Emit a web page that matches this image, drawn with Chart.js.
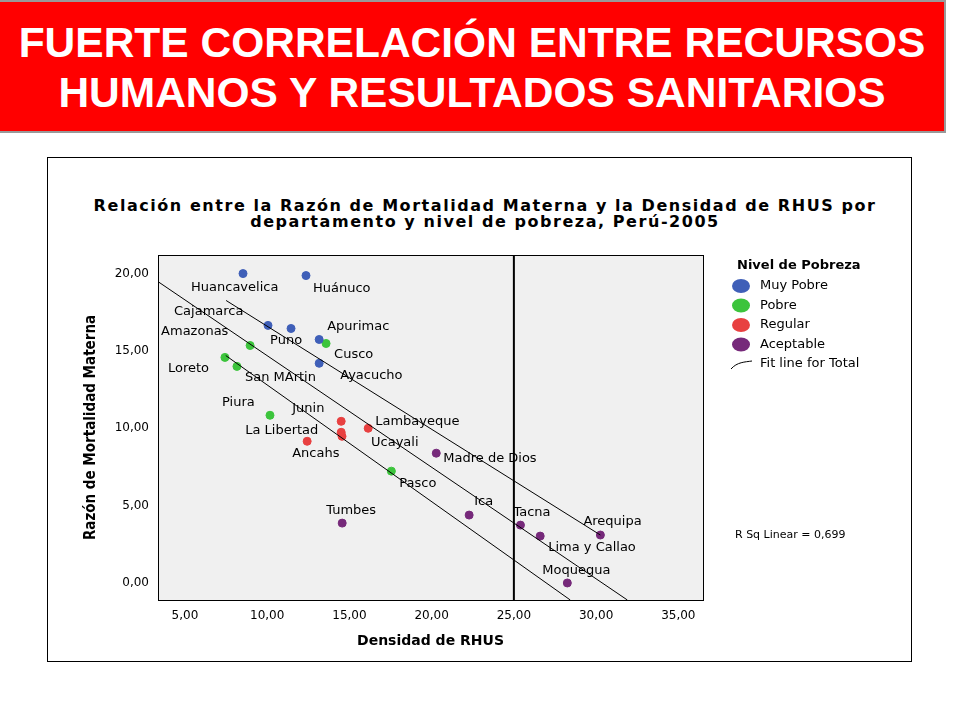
<!DOCTYPE html>
<html><head><meta charset="utf-8">
<script src="https://cdn.jsdelivr.net/npm/chart.js@4"></script>
<style>
body{margin:0;width:960px;height:720px;background:#fff;position:relative;font-family:Arial,"Liberation Sans",sans-serif;overflow:hidden}
#banner{position:absolute;left:0;top:0;width:946px;height:133px;background:#f00;border:2px solid #999;border-left:0;color:#fff;font-weight:bold;font-size:42.5px;text-align:center;line-height:50px;padding-top:16px;box-sizing:border-box}
#box{position:absolute;left:47px;top:157px;width:865px;height:505px;border:1px solid #000;box-sizing:border-box}
#ttl{position:absolute;left:50px;top:198px;width:870px;text-align:center;font-family:"DejaVu Sans",sans-serif;font-weight:bold;font-size:16px;line-height:16px;letter-spacing:1.55px}
canvas{position:absolute;left:0;top:0}
</style></head><body>
<div id="banner">FUERTE CORRELACIÓN ENTRE RECURSOS<br>HUMANOS Y RESULTADOS SANITARIOS</div>
<div id="box"></div>
<div id="ttl">Relación entre la Razón de Mortalidad Materna y la Densidad de RHUS por<br>departamento y nivel de pobreza, Perú-2005</div>
<canvas id="c" width="960" height="720"></canvas>
<script>
const muyPobreNames=["Huancavelica","Huánuco","Cajamarca","Puno","Apurimac","Ayacucho"];
const muyPobreX=[8.53,12.36,10.05,11.45,13.16,13.16];
const muyPobreY=[20.0,19.87,16.65,16.45,15.74,14.2];
const pobreNames=["Cusco","Amazonas","Loreto","San MArtin","Piura","Pasco"];
const pobreX=[13.58,8.96,7.43,8.16,10.17,17.55];
const pobreY=[15.48,15.35,14.58,14.0,10.84,7.23];
const regularNames=["Junin","Lambayeque","La Libertad","Ucayali","Ancahs"];
const regularX=[14.5,16.14,14.5,14.55,12.43];
const regularY=[10.45,10.0,9.74,9.48,9.16];
const aceptableNames=["Madre de Dios","Tumbes","Ica","Tacna","Lima y Callao","Arequipa","Moquegua"];
const aceptableX=[20.28,14.56,22.28,25.4,26.6,30.26,28.25];
const aceptableY=[8.39,3.87,4.39,3.74,3.03,3.1,0.0];
const fitX=[3.36,31.9]; const fitY=[19.48,-1.1];
const lowX=[7.48,28.43]; const lowY=[14.7,-1.1];
const upX=[7.5,30.26]; const upY=[18.26,3.1];
const refX=[25,25]; const refY=[-1.1,21.2];
const xTicks=[5,10,15,20,25,30,35]; const yTicks=[0,5,10,15,20];
const labelOff={"Huancavelica":[-52,14],"Huánuco":[7,13],"Cajamarca":[-94,-14],"Puno":[-21,12],"Apurimac":[8,-13],"Cusco":[8,11],"Ayacucho":[21,12],"Amazonas":[-89,-14],"Loreto":[-57,11],"San MArtin":[8,11],"Piura":[-48,-13],"Junin":[-49,-13],"Lambayeque":[7,-7],"La Libertad":[-96,-2],"Ucayali":[29,6],"Ancahs":[-15,12],"Madre de Dios":[7,5],"Pasco":[8,12],"Tumbes":[-16,-12],"Ica":[5,-13],"Tacna":[-7,-12],"Lima y Callao":[8,12],"Arequipa":[-17,-13],"Moquegua":[-25,-12]};
const cols={mp:"#3f5fb8",p:"#3cc43c",r:"#e84040",a:"#76297a"};
const pts=(xs,ys,ns)=>xs.map((x,i)=>({x,y:ys[i],name:ns?ns[i]:""}));
const line=(xs,ys)=>xs.map((x,i)=>({x,y:ys[i]}));
const sc=(d,c,l)=>({type:'scatter',label:l,data:d,backgroundColor:c,borderColor:c,pointRadius:4,pointHoverRadius:4});
const ln=(d,w)=>({type:'line',data:d,borderColor:'#000',borderWidth:w,pointRadius:0,fill:false,showLine:true});
const fmt=v=>v.toFixed(2).replace('.',',');
const plug={id:'extra',
 beforeDraw(ch){const a=ch.chartArea,g=ch.ctx;g.save();g.fillStyle='#f0f0f0';g.fillRect(a.left,a.top,a.right-a.left,a.bottom-a.top);g.restore();},
 afterDraw(ch){const g=ch.ctx,a=ch.chartArea;g.save();g.strokeStyle='#000';g.lineWidth=1;g.strokeRect(a.left+0.5,a.top+0.5,a.right-a.left,a.bottom-a.top);
  g.font='13px "DejaVu Sans",sans-serif';g.fillStyle='#000';g.textBaseline='middle';
  ch.data.datasets.forEach((ds,di)=>{if(ds.type!=='scatter')return;const m=ch.getDatasetMeta(di);m.data.forEach((el,i)=>{const n=ds.data[i].name;const o=labelOff[n];g.fillText(n,el.x+o[0],el.y+o[1]);});});
  let ly=266;g.font='bold 13px "DejaVu Sans",sans-serif';g.fillText('Nivel de Pobreza',737,ly);
  const items=[["Muy Pobre",cols.mp],["Pobre",cols.p],["Regular",cols.r],["Aceptable",cols.a]];
  g.font='13px "DejaVu Sans",sans-serif';
  items.forEach((it,i)=>{const y=ly+20+i*19.5;g.fillStyle=it[1];g.beginPath();g.ellipse(741,y,9,7,0,0,Math.PI*2);g.fill();g.fillStyle='#000';g.fillText(it[0],760,y);});
  const y5=ly+20+4*19.5;g.beginPath();g.moveTo(731,y5+5);g.bezierCurveTo(737,y5-2,745,y5-2,752,y5-3);g.stroke();g.fillText('Fit line for Total',760,y5);
  g.font='11px "DejaVu Sans",sans-serif';g.fillText('R Sq Linear = 0,699',735,535);
  g.restore();}};
new Chart(document.getElementById('c'),{
 data:{datasets:[ln(line(fitX,fitY),1),ln(line(lowX,lowY),1),ln(line(upX,upY),1),ln(line(refX,refY),2),
  sc(pts(muyPobreX,muyPobreY,muyPobreNames),cols.mp,'Muy Pobre'),sc(pts(pobreX,pobreY,pobreNames),cols.p,'Pobre'),
  sc(pts(regularX,regularY,regularNames),cols.r,'Regular'),sc(pts(aceptableX,aceptableY,aceptableNames),cols.a,'Aceptable')]},
 options:{responsive:false,animation:false,events:[],
  layout:{padding:{left:78,top:255,right:257,bottom:66}},
  plugins:{legend:{display:false},tooltip:{enabled:false}},
  scales:{
   x:{type:'linear',min:3.36,max:36.5,grid:{display:false,drawTicks:true,tickLength:5,color:'#000'},border:{display:false},
    afterBuildTicks:s=>{s.ticks=xTicks.map(v=>({value:v}));},afterFit:s=>{s.height=54;},
    ticks:{color:'#000',font:{size:12,family:'"DejaVu Sans",sans-serif'},callback:v=>fmt(v),maxRotation:0,padding:4},
    title:{display:true,text:'Densidad de RHUS',color:'#000',font:{size:14,weight:'bold',family:'"DejaVu Sans",sans-serif'},padding:{top:4}}},
   y:{type:'linear',min:-1.1,max:21.2,grid:{display:false,drawTicks:true,tickLength:5,color:'#000'},border:{display:false},
    afterBuildTicks:s=>{s.ticks=yTicks.map(v=>({value:v}));},afterFit:s=>{s.width=80;},
    ticks:{color:'#000',font:{size:12,family:'"DejaVu Sans",sans-serif'},callback:v=>fmt(v),padding:4},
    title:{display:true,text:'Razón de Mortalidad Materna',color:'#000',font:{size:15,weight:'bold',family:'"Liberation Sans Narrow","DejaVu Sans Condensed",sans-serif'},padding:{bottom:0}}}}},
 plugins:[plug]});
</script></body></html>
